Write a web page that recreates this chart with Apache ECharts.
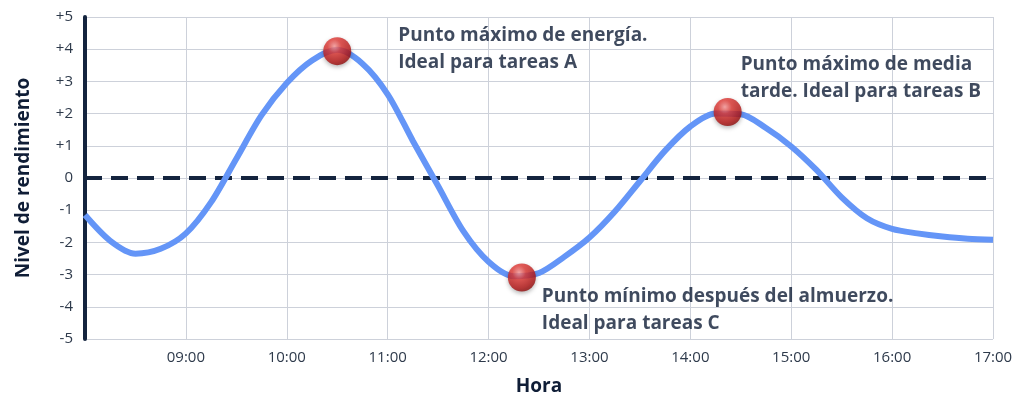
<!DOCTYPE html>
<html>
<head>
<meta charset="utf-8">
<script src="https://cdn.jsdelivr.net/npm/echarts@6/dist/echarts.min.js"></script>
<style>
html,body{margin:0;padding:0;background:#fff;}
#c{width:1024px;height:414px;}
</style>
</head>
<body>
<div id="c"></div>
<script>
// ---- data ----
var hours = [8.0, 8.25, 8.5, 8.75, 9.0, 9.25, 9.5, 9.75, 10.0, 10.25, 10.5, 10.75, 11.0, 11.25, 11.5, 11.75,
  12.0, 12.25, 12.5, 12.75, 13.0, 13.25, 13.5, 13.75, 14.0, 14.25, 14.5, 14.75, 15.0, 15.25, 15.5, 15.75,
  16.0, 16.25, 16.5, 16.75, 17.0];
var values = [-1.15, -1.95, -2.35, -2.2, -1.72, -0.75, 0.6, 1.95, 2.95, 3.65, 3.98, 3.55, 2.6, 1.15, -0.25, -1.65,
  -2.6, -3.05, -2.95, -2.45, -1.85, -1.05, -0.1, 0.85, 1.6, 2.0, 1.98, 1.55, 0.98, 0.25, -0.6, -1.25,
  -1.58, -1.72, -1.82, -1.89, -1.92];
var keyHours = [10.5, 12.33, 14.37];
var keyValues = [3.94, -3.09, 2.05];
var keyTexts = [
  'Punto máximo de energía.\nIdeal para tareas A',
  'Punto mínimo después del almuerzo.\nIdeal para tareas C',
  'Punto máximo de media\ntarde. Ideal para tareas B'
];
var xTickLabels = ['08:00','09:00','10:00','11:00','12:00','13:00','14:00','15:00','16:00','17:00'];
var yTickLabels = ['-5','-4','-3','-2','-1','0','+1','+2','+3','+4','+5'];
var xName = 'Hora';
var yName = 'Nivel de rendimiento';

// ---- chart ----
var navy = '#14243e';
var textNavy = '#0f1d36';
var labelOffsets = [[75, -15.5], [34, 19.5], [27, -46.5]];
var lineData = hours.map(function (h, i) { return [h, values[i]]; });
var keyData = keyHours.map(function (h, i) {
  return {
    value: [h, keyValues[i]],
    label: {
      show: true,
      formatter: keyTexts[i],
      position: labelOffsets[i],
      align: 'left',
      verticalAlign: 'top',
      fontFamily: 'Open Sans', fontWeight: 'bold', fontSize: 19, lineHeight: 27, color: textNavy
    }
  };
});

var chart = echarts.init(document.getElementById('c'), null, {renderer: 'canvas'});
chart.setOption({
  animation: false,
  grid: {left: 85, right: 31, top: 17, bottom: 75, containLabel: false},
  xAxis: {
    type: 'value', min: 8, max: 17, interval: 1,
    name: xName, nameLocation: 'middle', nameGap: 38,
    nameTextStyle: {fontFamily: 'Open Sans', fontWeight: 'bold', fontSize: 19, color: textNavy},
    axisLine: {show: false},
    axisTick: {show: false},
    axisLabel: {
      showMinLabel: false, margin: 11,
      fontFamily: 'Open Sans', fontSize: 15, color: '#2e3a4b',
      formatter: function (v) { return xTickLabels[Math.round(v - 8)]; }
    },
    splitLine: {show: true, lineStyle: {color: '#cdd1da', width: 1}}
  },
  yAxis: {
    type: 'value', min: -5, max: 5, interval: 1,
    name: yName, nameLocation: 'middle', nameGap: 52, nameRotate: 90,
    nameTextStyle: {fontFamily: 'Open Sans', fontWeight: 'bold', fontSize: 19, color: textNavy},
    axisLine: {show: true, lineStyle: {color: navy, width: 4}},
    axisTick: {show: false},
    axisLabel: {
      margin: 12, fontFamily: 'Open Sans', fontSize: 15, color: '#2e3a4b',
      formatter: function (v) { return yTickLabels[Math.round(v + 5)]; }
    },
    splitLine: {show: true, lineStyle: {color: '#cdd1da', width: 1}}
  },
  series: [
    {
      type: 'line',
      data: lineData,
      smooth: 0.3,
      showSymbol: false,
      z: 3,
      lineStyle: {color: '#6495f7', width: 6},
      markLine: {
        silent: true,
        symbol: ['none', 'none'],
        label: {show: false},
        lineStyle: {color: navy, width: 4, type: [17, 9]},
        data: [{yAxis: 0}],
        z: 2
      }
    },
    {
      type: 'scatter',
      data: keyData,
      symbolSize: 28,
      z: 5,
      itemStyle: {
        color: {
          type: 'radial', x: 0.4, y: 0.32, r: 0.7,
          colorStops: [
            {offset: 0, color: '#ff9c9c'},
            {offset: 0.35, color: '#e23a36'},
            {offset: 0.8, color: '#b51616'},
            {offset: 1, color: '#8e0b0b'}
          ]
        },
        shadowBlur: 4, shadowColor: 'rgba(0,0,0,0.35)', shadowOffsetY: 2
      }
    }
  ]
});
</script>
</body>
</html>
